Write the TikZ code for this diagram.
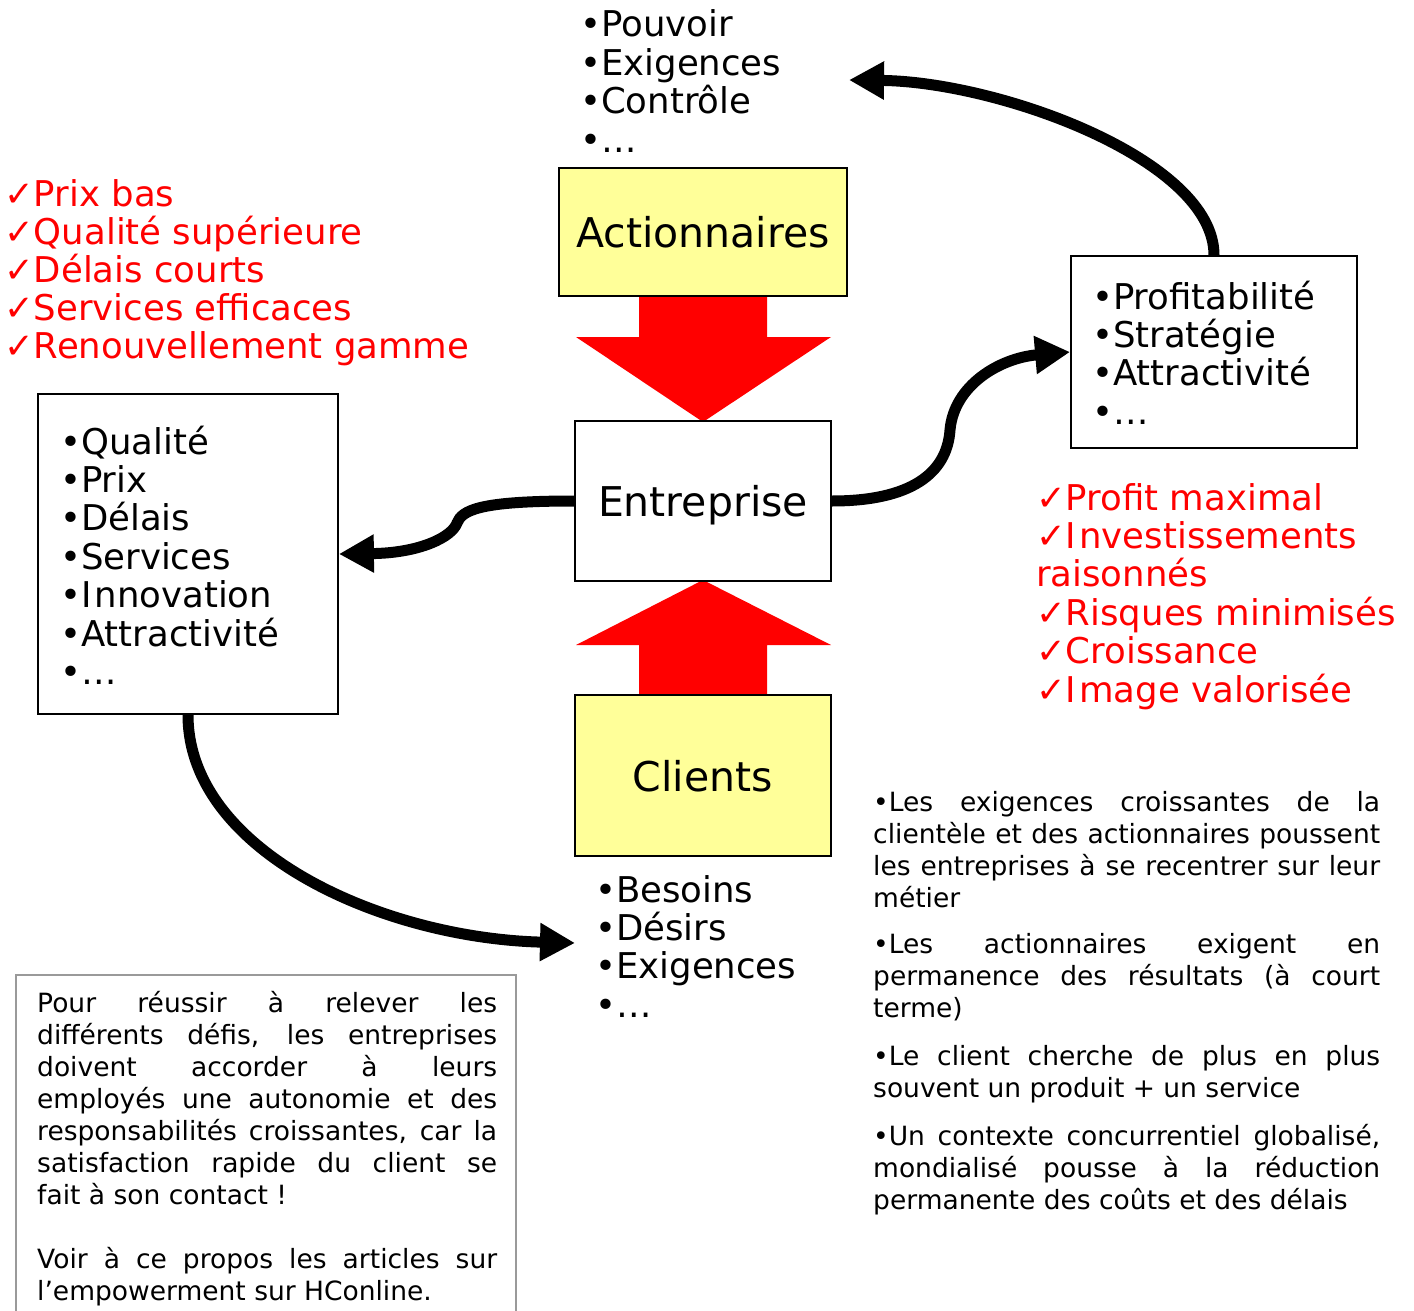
\documentclass[tikz,border=0pt]{standalone}
\usepackage{fontspec}
\setmainfont{DejaVu Sans}
\usetikzlibrary{arrows.meta}
\definecolor{boxyellow}{HTML}{FFFF99}
\definecolor{notegray}{HTML}{9A9A9A}
\definecolor{hcred}{HTML}{FF0000}
\newcommand\myln[1]{\hbox{#1}}
\newcommand\myjl[2]{\hbox to #1{#2}}
\newcommand\mystack[1]{\vtop{\lineskiplimit=-1000pt\lineskip=0pt #1}}
\newcommand\ck{✓}
\begin{document}
\begin{tikzpicture}[x=1pt,y=-1pt,
  box/.style={draw=black, line width=1.8pt, inner sep=0pt, align=center},
  ybox/.style={box, fill=boxyellow},
  bigtxt/.style={font=\fontsize{41}{45}\selectfont, text depth=0pt},
  lst/.style={inner sep=0pt, anchor=base west, font=\fontsize{35.5}{38.4}\selectfont},
  redlst/.style={lst, text=hcred},
  para/.style={inner sep=0pt, anchor=base west, font=\fontsize{26.5}{32}\selectfont},
  conn/.style={line width=11pt, -{Triangle[length=35pt,width=36pt]}},
  bigarrow/.style={fill=hcred, draw=none}
]
\useasboundingbox[fill=white] (0,0) rectangle (1414,1311);

% big red arrows
\fill[bigarrow] (639,296) -- (767,296) -- (767,337) -- (831,337) -- (703,422) -- (576,337) -- (639,337) -- cycle;
\fill[bigarrow] (639,696) -- (767,696) -- (767,645) -- (831,645) -- (703,580) -- (576,645) -- (639,645) -- cycle;

% boxes
\node[ybox, minimum width=288pt, minimum height=128pt, bigtxt] (act) at (703,232) {Actionnaires};
\node[box, fill=white, minimum width=256pt, minimum height=160pt, bigtxt] (ent) at (703,501) {Entreprise};
\node[ybox, minimum width=256pt, minimum height=161pt, bigtxt] (cli) at (703,775.5) {Clients};
\node[box, fill=white, minimum width=300pt, minimum height=320pt] (lbox) at (188,554) {};
\node[box, fill=white, minimum width=286pt, minimum height=192pt] (rbox) at (1214,352) {};

% lists
\node[lst] (toplist) at (580,37) {\mystack{\myln{•Pouvoir}\myln{•Exigences}\myln{•Contrôle}\myln{•…}}};
\node[lst] (llist) at (60,454) {\mystack{\myln{•Qualité}\myln{•Prix}\myln{•Délais}\myln{•Services}\myln{•I\kern3pt nnovation}\myln{•Attractivité}\myln{•…}}};
\node[lst] (blist) at (595,902) {\mystack{\myln{•Besoins}\myln{•Désirs}\myln{•Exigences}\myln{•…}}};
\node[lst] (rlist) at (1092,309) {\mystack{\myln{•Profitabilité}\myln{•Stratégie}\myln{•Attractivité}\myln{•…}}};

\node[redlst, font=\fontsize{35.5}{37.8}\selectfont] (redl) at (4,207) {\mystack{\myln{\ck Prix bas}\myln{\ck Qualité supérieure}\myln{\ck Délais courts}\myln{\ck Services efficaces}\myln{\ck Renouvellement gamme}}};
\node[redlst] (redr) at (1036,510) {\mystack{\myln{\ck Profit maximal}\myln{\ck I\kern3pt nvestissements}\myln{raisonnés}\myln{\ck Risques minimisés}\myln{\ck Croissance}\myln{\ck I\kern3pt mage valorisée}}};

% connectors
\coordinate (topend) at (849,80);
\coordinate (botend) at (575,943);
\draw[conn] (ent.west) .. controls (480,501) and (462,510) .. (457,523) .. controls (452,537) and (420,553) .. (lbox.east);
\draw[conn] (ent.east) .. controls (910,501) and (947,474) .. (950,430) .. controls (954,385) and (1000,358) .. (rbox.west);
\draw[conn] (rbox.north) .. controls (1214,160) and (1000,82) .. (topend);
\draw[conn] (lbox.south) .. controls (188,850) and (380,938) .. (botend);

% right paragraphs
\node[para] (p1) at (873,811) {\mystack{\myjl{507pt}{•Les exigences croissantes de la}\myjl{507pt}{clientèle et des actionnaires poussent}\myjl{507pt}{les entreprises à se recentrer sur leur}\myln{métier}}};
\node[para] (p2) at (873,953) {\mystack{\myjl{507pt}{•Les actionnaires exigent en}\myjl{507pt}{permanence des résultats (à court}\myln{terme)}}};
\node[para] (p3) at (873,1065) {\mystack{\myjl{507pt}{•Le client cherche de plus en plus}\myln{souvent un produit + un service}}};
\node[para] (p4) at (873,1145) {\mystack{\myjl{507pt}{•Un contexte concurrentiel globalisé,}\myjl{507pt}{mondialisé pousse à la réduction}\myln{permanente des coûts et des délais}}};

% bottom-left note
\draw[notegray, line width=1.6pt] (16,1320) -- (16,975) -- (516,975) -- (516,1320);
\node[para] (note) at (37,1012) {\mystack{\myjl{460pt}{Pour réussir à relever les}\myjl{460pt}{différents défis, les entreprises}\myjl{460pt}{doivent accorder à leurs}\myjl{460pt}{employés une autonomie et des}\myjl{460pt}{responsabilités croissantes, car la}\myjl{460pt}{satisfaction rapide du client se}\myln{fait à son contact !}\myln{}\myjl{460pt}{Voir à ce propos les articles sur}\myln{l\char"27 empowerment sur HConline.}}};
\end{tikzpicture}
\end{document}
